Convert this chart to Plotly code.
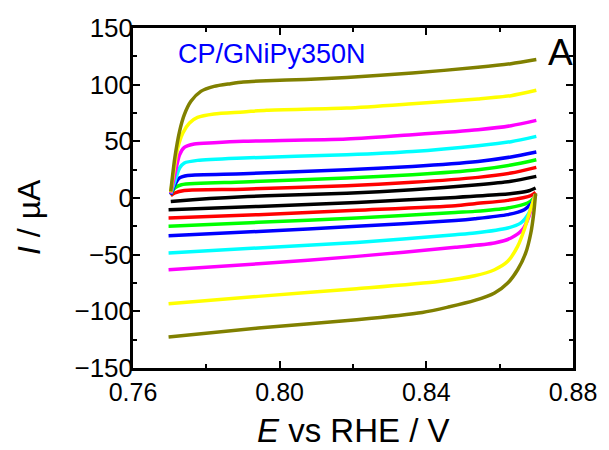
import plotly.graph_objects as go

# ---------------- data (E in V vs RHE, I in µA) ----------------
colors = ["#000000", "#FF0000", "#00FF00", "#0000FF", "#00FFFF", "#FF00FF", "#FFFF00", "#808000"]

E_up_black = [0.7703, 0.7763, 0.7852, 0.7964, 0.8183, 0.8362, 0.8541, 0.8631, 0.8700]
I_up_black = [-3, -1.5, 0.3, 2.0, 4.2, 7.3, 11.7, 14.7, 19.1]
E_lo_black = [0.7697, 0.7942, 0.8210, 0.8479, 0.8600, 0.8650, 0.8680, 0.8698]
I_lo_black = [-10.3, -7.4, -3.9, 0.5, 3.0, 4.6, 6.4, 8.8]

E_up_red = [0.7703, 0.7714, 0.7740, 0.7901, 0.8183, 0.8362, 0.8541, 0.8631, 0.8700]
I_up_red = [2, 4.4, 6.7, 7.8, 10.9, 13.8, 18.2, 22, 27]
E_lo_red = [0.7697, 0.7942, 0.8210, 0.8479, 0.8532, 0.8622, 0.8685, 0.8698]
I_lo_red = [-17.7, -14.7, -10.9, -6.8, -5, -2.1, 2, 5]

E_up_green = [0.7703, 0.7714, 0.7732, 0.7901, 0.8183, 0.8362, 0.8541, 0.8631, 0.8700]
I_up_green = [3, 8.8, 11.7, 14.1, 17.7, 20.6, 25, 29.1, 33.8]
E_lo_green = [0.7697, 0.7942, 0.8210, 0.8479, 0.8532, 0.8622, 0.8676, 0.8693, 0.8698]
I_lo_green = [-25, -21.5, -17.7, -12.7, -11.8, -8.8, -4.4, 0, 3]

E_up_blue = [0.7703, 0.7714, 0.7727, 0.7749, 0.7901, 0.8183, 0.8362, 0.8541, 0.8631, 0.8700]
I_up_blue = [3, 11.7, 17.7, 19.9, 21.4, 25, 27.9, 32.3, 36.2, 40.6]
E_lo_blue = [0.7697, 0.7942, 0.8210, 0.8479, 0.8532, 0.8622, 0.8667, 0.8691, 0.8698]
I_lo_blue = [-33.3, -29.5, -25, -19.8, -18.3, -14.7, -10.3, -3, 3]

E_up_cyan = [0.7703, 0.7714, 0.7727, 0.7740, 0.7776, 0.7901, 0.8183, 0.8362, 0.8541, 0.8631, 0.8700]
I_up_cyan = [4, 14.7, 26.5, 30.9, 33.2, 35.3, 38.2, 41.1, 46.2, 49.7, 54.4]
E_lo_cyan = [0.7697, 0.7942, 0.8210, 0.8479, 0.8532, 0.8622, 0.8658, 0.8680, 0.8691, 0.8697]
I_lo_cyan = [-48.5, -44.1, -39.2, -32.4, -30.9, -26.5, -22, -13.2, -3, 3]

E_up_magenta = [0.7703, 0.7714, 0.7727, 0.7740, 0.7767, 0.7821, 0.7901, 0.8183, 0.8362, 0.8541, 0.8631, 0.8700]
I_up_magenta = [4, 20.6, 38.2, 44.7, 47.7, 48.8, 50, 52.1, 55.9, 60.3, 63.8, 68.5]
E_lo_magenta = [0.7697, 0.7942, 0.8210, 0.8479, 0.8586, 0.8631, 0.8662, 0.8680, 0.8689, 0.8697]
I_lo_magenta = [-63.3, -58, -51.5, -43.5, -39.7, -35.3, -28, -16.2, -5.9, 3]

E_up_yellow = [0.7703, 0.7714, 0.7722, 0.7736, 0.7754, 0.7776, 0.7821, 0.7901, 0.7964, 0.8183, 0.8362, 0.8541, 0.8631, 0.8700]
I_up_yellow = [5, 29.4, 44, 57.4, 66.2, 71.1, 74.1, 75.9, 77.5, 79.4, 83.2, 87.4, 90.3, 95]
E_lo_yellow = [0.7697, 0.7942, 0.8210, 0.8434, 0.8532, 0.8586, 0.8622, 0.8649, 0.8667, 0.8681, 0.8693, 0.8697]
I_lo_yellow = [-93.3, -86.8, -80, -73.6, -68.6, -63.3, -55.9, -42.7, -28, -13.2, -1.5, 3]

E_up_olive = [0.7703, 0.7714, 0.7727, 0.7740, 0.7758, 0.7785, 0.7821, 0.7866, 0.7901, 0.7964, 0.8070, 0.8183, 0.8362, 0.8541, 0.8631, 0.8700]
I_up_olive = [5.8, 35.3, 58.8, 73.5, 85.3, 94.1, 98.5, 100.9, 102.4, 103.5, 104.5, 106.4, 110.3, 115.3, 118.5, 122.2]
E_lo_olive = [0.7697, 0.7942, 0.8210, 0.8389, 0.8460, 0.8532, 0.8586, 0.8622, 0.8649, 0.8671, 0.8685, 0.8693, 0.8698]
I_lo_olive = [-122.7, -114.7, -107.4, -101, -96.2, -90.4, -83.8, -75, -63.3, -48.5, -30.9, -13.2, 4]

series = [
    (E_up_black, I_up_black, E_lo_black, I_lo_black),
    (E_up_red, I_up_red, E_lo_red, I_lo_red),
    (E_up_green, I_up_green, E_lo_green, I_lo_green),
    (E_up_blue, I_up_blue, E_lo_blue, I_lo_blue),
    (E_up_cyan, I_up_cyan, E_lo_cyan, I_lo_cyan),
    (E_up_magenta, I_up_magenta, E_lo_magenta, I_lo_magenta),
    (E_up_yellow, I_up_yellow, E_lo_yellow, I_lo_yellow),
    (E_up_olive, I_up_olive, E_lo_olive, I_lo_olive),
]

x_tickvals = [0.76, 0.80, 0.84, 0.88]
x_ticktext = ["0.76", "0.80", "0.84", "0.88"]
y_tickvals = [-150, -100, -50, 0, 50, 100, 150]

FONT = "Liberation Sans, Arial, sans-serif"

fig = go.Figure()
for col, (eu, iu, el, il) in zip(colors, series):
    for xs, ys in ((el, il), (eu, iu)):
        fig.add_trace(go.Scatter(
            x=xs, y=ys, mode="lines",
            line=dict(color=col, width=3.5, shape="spline", smoothing=0.7),
            showlegend=False, hoverinfo="skip"))

L, R, T, B = 133, 30, 28, 82
W, H = 609, 450
pw, ph = W - L - R, H - T - B

def px(xp):
    return (xp - L) / pw

def py(yp):
    return (H - B - yp) / ph

axis_common = dict(
    showline=True, linecolor="black", linewidth=2.5, mirror="ticks",
    ticks="inside", ticklen=7, tickwidth=2, tickcolor="black",
    showgrid=False, zeroline=False,
)

fig.update_xaxes(
    range=[0.76, 0.88], tickvals=x_tickvals, ticktext=x_ticktext,
    tickfont=dict(family=FONT, size=25, color="black"),
    minor=dict(dtick=0.02, tick0=0.76, ticks="inside", ticklen=4, tickwidth=2, tickcolor="black", showgrid=False),
    **axis_common)
fig.update_yaxes(
    range=[-150, 150], tickvals=y_tickvals,
    tickfont=dict(family=FONT, size=26, color="black"), ticklabelstandoff=-8,
    minor=dict(dtick=25, tick0=0, ticks="inside", ticklen=4, tickwidth=2, tickcolor="black", showgrid=False),
    **axis_common)

fig.add_annotation(x=px(177), y=py(54), xref="paper", yref="paper", text="CP/GNiPy350N",
                   showarrow=False, xanchor="left", yanchor="middle",
                   font=dict(family=FONT, size=27, color="#0000FF"))
fig.add_annotation(x=px(566), y=py(52.5), xref="paper", yref="paper", text="A",
                   showarrow=False, xanchor="center", yanchor="middle",
                   font=dict(family=FONT, size=37, color="black"))
fig.add_annotation(x=px(356), y=py(430.5), xref="paper", yref="paper", text="<i>E</i> vs RHE / V",
                   showarrow=False, xanchor="center", yanchor="middle", borderpad=0,
                   font=dict(family=FONT, size=33, color="black"))
fig.add_annotation(x=px(27.5), y=py(217), xref="paper", yref="paper", text="<i>I</i> / µA",
                   showarrow=False, xanchor="center", yanchor="middle", textangle=-90,
                   font=dict(family=FONT, size=32, color="black"))

fig.update_layout(
    width=W, height=H,
    margin=dict(l=L, r=R, t=T, b=B, pad=0),
    plot_bgcolor="white", paper_bgcolor="white",
    font=dict(family=FONT, color="black"),
)

fig.write_html("out.html")
